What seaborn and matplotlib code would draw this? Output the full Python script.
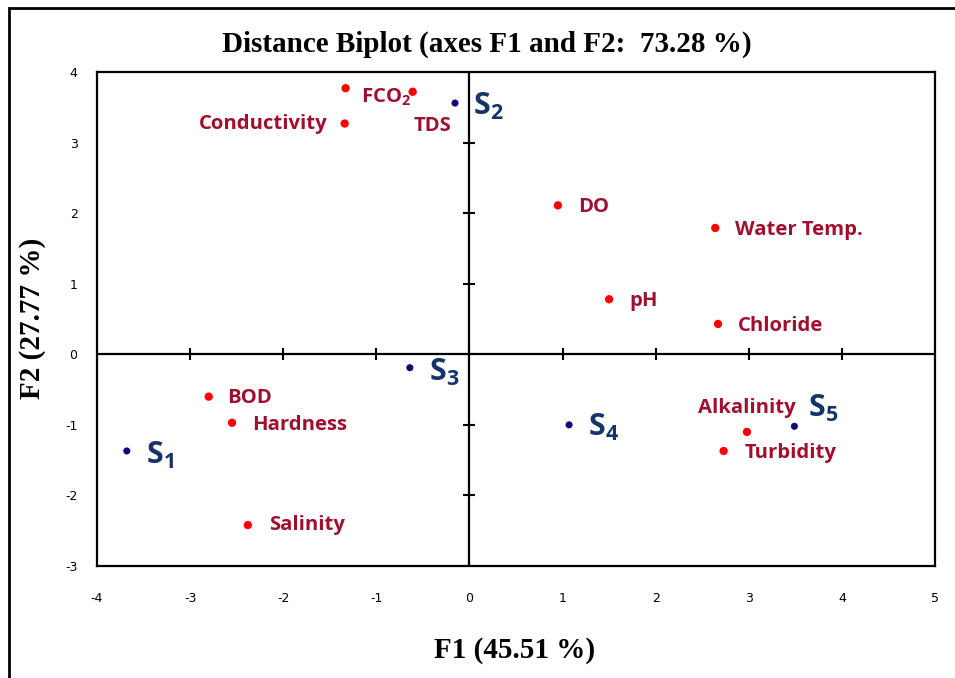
import matplotlib
matplotlib.use('Agg')
import matplotlib.pyplot as plt
import seaborn as sns
import pandas as pd
from matplotlib.patches import Rectangle

# ---- data ----
obs_names = ['S$_1$', 'S$_2$', 'S$_3$', 'S$_4$', 'S$_5$']
obs_f1 = [-3.68, -0.155, -0.64, 1.07, 3.49]
obs_f2 = [-1.37, 3.56, -0.19, -1.00, -1.02]

var_names = ['FCO$_2$', 'TDS', 'Conductivity', 'DO', 'Water Temp.', 'pH',
             'Chloride', 'BOD', 'Hardness', 'Salinity', 'Alkalinity', 'Turbidity']
var_f1 = [-1.33, -0.61, -1.34, 0.95, 2.64, 1.50, 2.67, -2.80, -2.55, -2.38, 2.98, 2.73]
var_f2 = [3.77, 3.72, 3.27, 2.11, 1.79, 0.78, 0.43, -0.60, -0.97, -2.42, -1.10, -1.37]

x_ticks = [-4, -3, -2, -1, 0, 1, 2, 3, 4, 5]
y_ticks = [-3, -2, -1, 0, 1, 2, 3, 4]

title = 'Distance Biplot (axes F1 and F2:  73.28 %)'
x_label = 'F1 (45.51 %)'
y_label = 'F2 (27.77 %)'

# ---- label placement (pixels offset, alignment) ----
obs_offsets = [(19, -4, 'left'), (18, -3, 'left'), (19, -5, 'left'),
               (19, -3, 'left'), (14, 18, 'left')]
var_offsets = [(15, -9, 'left'), (20, -34, 'center'), (-17, 0, 'right'),
               (20, -2, 'left'), (20, -2, 'left'), (20, -2, 'left'),
               (20, -2, 'left'), (18, -1, 'left'), (20, -2, 'left'),
               (21, 0, 'left'), (0, 24, 'center'), (21, -2, 'left')]

sns.set_style('white')
plt.rcParams['font.family'] = ['Open Sans', 'DejaVu Sans']
plt.rcParams['mathtext.default'] = 'regular'
plt.rcParams['text.color'] = 'black'
plt.rcParams['xtick.color'] = 'black'
plt.rcParams['ytick.color'] = 'black'

obs_df = pd.DataFrame({'F1': obs_f1, 'F2': obs_f2, 'name': obs_names})
var_df = pd.DataFrame({'F1': var_f1, 'F2': var_f2, 'name': var_names})

fig = plt.figure(figsize=(9.55, 6.78), dpi=100)
ax = fig.add_axes([97/955, 1-566/678, (935-97)/955, (566-72)/678])

var_color = '#FF0000'
obs_color = '#0A0A78'
var_text = '#A0102E'
obs_text = '#15346A'

# zero lines
ax.axhline(0, color='black', lw=1.6, zorder=1)
ax.axvline(0, color='black', lw=1.6, zorder=1)
ax.plot(x_ticks, [0]*len(x_ticks), ls='none', marker='|', ms=9, mew=1.5, color='black', zorder=1)
ax.plot([0]*len(y_ticks), y_ticks, ls='none', marker='_', ms=9, mew=1.5, color='black', zorder=1)

sns.scatterplot(data=var_df, x='F1', y='F2', ax=ax, color=var_color, s=36,
                edgecolor='none', zorder=3)
sns.scatterplot(data=obs_df, x='F1', y='F2', ax=ax, color=obs_color, s=26,
                edgecolor='none', zorder=3)

for (x, y, n), (dx, dy, ha) in zip(zip(var_f1, var_f2, var_names), var_offsets):
    ax.annotate(n, (x, y), xytext=(dx, dy), textcoords='offset pixels',
                ha=ha, va='center', fontsize=14.6, fontweight='bold', color=var_text)
for (x, y, n), (dx, dy, ha) in zip(zip(obs_f1, obs_f2, obs_names), obs_offsets):
    ax.annotate(n, (x, y), xytext=(dx, dy), textcoords='offset pixels',
                ha=ha, va='center', fontsize=22, fontweight='bold', color=obs_text)

ax.set_xlim(-4, 5)
ax.set_ylim(-3, 4)
ax.set_xticks(x_ticks)
ax.set_yticks(y_ticks)
ax.set_xticklabels([str(t) for t in x_ticks], fontfamily='DejaVu Sans', fontsize=9)
ax.set_yticklabels([str(t) for t in y_ticks], fontfamily='DejaVu Sans', fontsize=9)
ax.tick_params(axis='x', length=0, pad=19)
ax.tick_params(axis='y', length=0, pad=14)
ax.set_xlabel('')
ax.set_ylabel('')
for sp in ax.spines.values():
    sp.set_visible(True)
    sp.set_color('black')
    sp.set_linewidth(1.6)

serif = ['Liberation Serif', 'DejaVu Serif']
fig.text(487/955, 1-44/678, title, ha='center', va='center', fontfamily=serif,
         fontweight='bold', fontsize=21)
fig.text(515/955, 1-650/678, x_label, ha='center', va='center', fontfamily=serif,
         fontweight='bold', fontsize=21)
fig.text(33/955, 1-318/678, y_label, ha='center', va='center', rotation=90,
         fontfamily=serif, fontweight='bold', fontsize=21)

fig.add_artist(Rectangle((9/955, -0.05), 1.0, 1-8/678+0.05, transform=fig.transFigure,
                         fill=False, lw=2.0, ec='black'))

fig.savefig('out.png', dpi=100)
